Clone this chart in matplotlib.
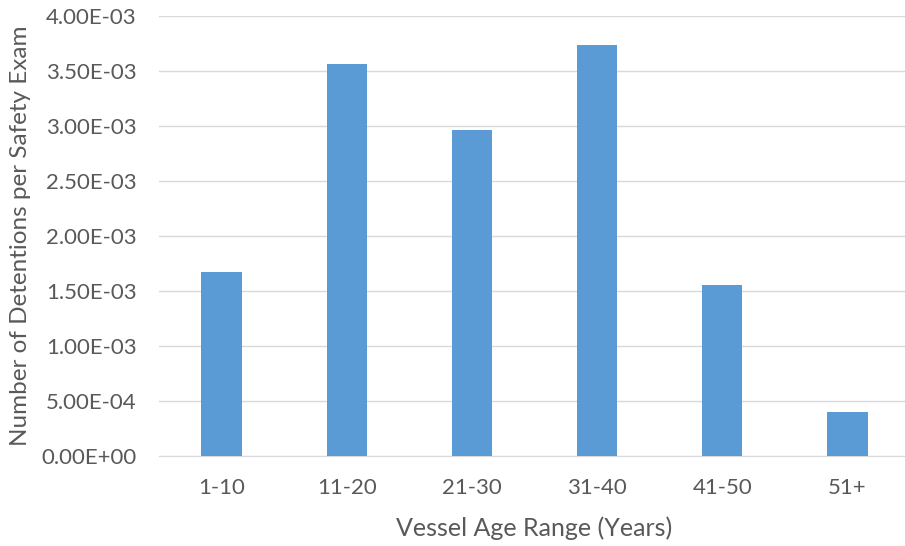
import matplotlib
matplotlib.use("Agg")
import matplotlib.pyplot as plt
from matplotlib.ticker import FuncFormatter, MultipleLocator

categories = ["1-10", "11-20", "21-30", "31-40", "41-50", "51+"]
values = [1.673e-3, 3.564e-3, 2.964e-3, 3.736e-3, 1.555e-3, 0.400e-3]

plt.rcParams['font.family'] = ['Lato', 'DejaVu Sans']
fig = plt.figure(figsize=(9.05, 5.46), dpi=100)
ax = fig.add_axes([0.1756, 0.1648, 0.830, 0.806])
x = range(len(categories))
ax.bar(x, values, width=0.32, color="#5B9BD5", zorder=3)
ax.set_xlim(-0.5, len(categories) - 0.5)
ax.set_ylim(0, 4e-3)
ax.yaxis.set_major_locator(MultipleLocator(5e-4))
ax.yaxis.set_major_formatter(FuncFormatter(lambda v, p: f"{v:.2E}"))
ax.set_xticks(list(x))
ax.set_xticklabels(categories)
ax.grid(axis='y', color="#D9D9D9", linewidth=1, zorder=0)
for s in ['top', 'right', 'left']:
    ax.spines[s].set_visible(False)
ax.spines['bottom'].set_color("#D9D9D9")
ax.tick_params(axis='both', length=0, labelsize=16, colors="#595959")
ax.tick_params(axis='x', pad=16)
ax.tick_params(axis='y', pad=16)
ax.set_xlabel("Vessel Age Range (Years)", fontsize=18, color="#595959", va='center')
ax.set_ylabel("Number of Detentions per Safety Exam", fontsize=17.5, color="#595959", va='center')
ax.xaxis.set_label_coords(0.5 - 0.0, (456 - 528) / 440)
ax.yaxis.set_label_coords((21 - 159) / 751, 0.5)
fig.savefig("out.png", dpi=100)
